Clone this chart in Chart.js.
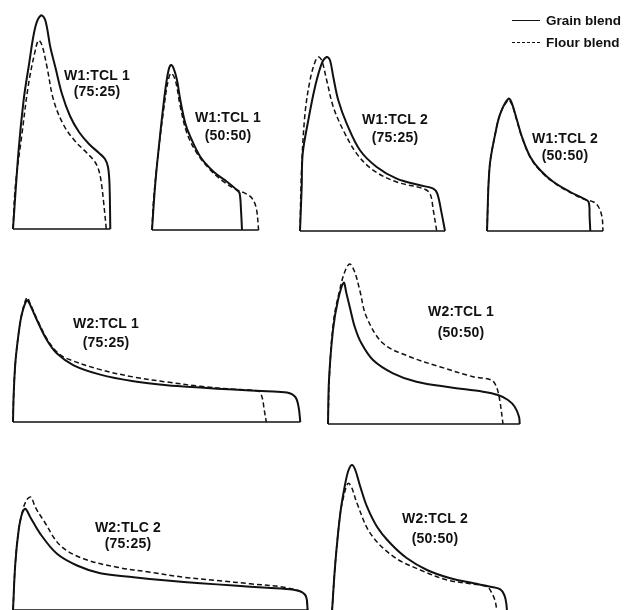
<!DOCTYPE html>
<html>
<head>
<meta charset="utf-8">
<script src="https://cdn.jsdelivr.net/npm/chart.js@4.4.1/dist/chart.umd.min.js"></script>
<style>
  html, body { margin: 0; padding: 0; background: #fff; }
  body { width: 625px; height: 610px; position: relative; overflow: hidden; }
  canvas.panel { position: absolute; }
  .lbl { position: absolute; transform: translate(-50%, -50%); font-family: "Liberation Sans", Arial, sans-serif;
         font-weight: bold; font-size: 14px; letter-spacing: 0.2px; color: #111; white-space: nowrap; line-height: 1; }
  .leg { position: absolute; font-family: "Liberation Sans", Arial, sans-serif; font-weight: bold; font-size: 13.5px;
         color: #111; white-space: nowrap; line-height: 1; }
  .legline { position: absolute; width: 28px; height: 0; }
</style>
</head>
<body>
<script>
// Alveograph curves: x = curve length (mm), y = pressure (mm).
const panelTitles = [
  ["W1:TCL 1", "(75:25)"],
  ["W1:TCL 1", "(50:50)"],
  ["W1:TCL 2", "(75:25)"],
  ["W1:TCL 2", "(50:50)"],
  ["W2:TCL 1", "(75:25)"],
  ["W2:TCL 1", "(50:50)"],
  ["W2:TLC 2", "(75:25)"],
  ["W2:TCL 2", "(50:50)"]
];
const seriesNames = ["Grain blend", "Flour blend"];

// W1:TCL 1 (75:25)
const p1Grain = [[0,0],[5.6,78.7],[10.6,128.7],[15.6,162],[22.3,202],[28,213.7],[32.3,208.7],[37.3,182],[42.3,162],[49,135],[57,113],[66,97],[76,85],[86,76],[92,70],[95,62],[96.5,45],[97.3,0]];
const p1Flour = [[0,0],[2.3,42],[9,95.4],[15.6,145.4],[22.3,178.7],[25.6,188.7],[29,183.7],[34,162],[40.6,128.7],[50.6,104],[62,88],[74,76],[82,67],[86,58],[88.5,45],[90.5,28],[93.3,0]];
// W1:TCL 1 (50:50)
const p2Grain = [[0,0],[3.3,46.7],[8.3,96.7],[13.3,140],[16.6,160],[19,165],[21.6,161.7],[25,150],[28.3,130],[33.3,106.7],[38.3,93.3],[48.3,73.3],[61.6,58.3],[75,48.3],[85,40],[87.6,36.7],[89,20],[90,0]];
const p2Flour = [[0,0],[1.6,30],[6.6,80],[11.6,120],[15.6,146.7],[19,156.7],[23.3,150],[28.3,123.3],[35,96.7],[45,76.7],[58.3,60],[71.6,48.3],[85,40],[93.3,36.7],[100,31.7],[104.3,21.7],[106.6,0]];
// W1:TCL 2 (75:25)
const p3Grain = [[0,0],[1.7,44],[2.7,77.4],[8.3,110.7],[15,144],[21.7,167.4],[26.7,174],[30,170.7],[33.3,154],[38.3,130.7],[46.7,107.4],[60,80.7],[76.7,64],[96.7,52.4],[120,45.7],[133.3,42.4],[137.3,37.4],[141.7,17.4],[145,0]];
const p3Flour = [[0,0],[1.5,60],[5,117.4],[10,150.7],[15,169],[18.3,174],[21.7,170.7],[26.7,150.7],[33.3,124],[43.3,100.7],[56.7,77.4],[73.3,60.7],[96.7,49],[123.3,42.4],[130,37.4],[133.3,20.7],[136.7,0]];
// W1:TCL 2 (50:50)
const p4Grain = [[0,0],[2.6,64],[8.3,97.4],[13.3,117.4],[21.6,132.4],[25,127.4],[30,110.7],[35,94],[43.3,74],[53.3,60.7],[66.6,49],[83.3,39],[96.6,32.4],[101.6,29],[102.6,14],[103.3,0]];
const p4Flour = [[0,0],[2.6,64],[8.3,97.4],[13.3,117.4],[21.6,131],[25,126],[30,110],[35,93.5],[43.3,73.5],[53.3,60],[66.6,48.5],[83.3,38.5],[96.6,32],[106.6,29],[111.6,24],[115,14],[116,0]];
// W2:TCL 1 (75:25)
const p5Grain = [[0,0],[0.6,25],[2.3,58.4],[5.6,88.4],[9,108.4],[14,121.7],[17.3,116.7],[24,101.7],[34,81.7],[44,68.4],[60.6,56.7],[87.3,47.4],[120.6,40.7],[154,36.7],[187.3,34.4],[220.6,32.4],[254,30.7],[274,29.4],[282.3,25],[285.6,15],[287.3,0]];
const p5Flour = [[0,0],[0.6,25],[2.3,58.4],[5.6,88.4],[9,109],[14,124.4],[17.3,118],[24,103],[34,83],[44,70],[54,63.4],[87.3,52.4],[120.6,45],[154,40],[187.3,35.7],[220.6,32.7],[245.6,30.7],[249,25],[251.3,11.7],[253.3,0]];
// W2:TCL 1 (50:50)
const p6Grain = [[0,0],[1,44],[5,94],[10,124],[15.7,141.3],[18.4,130.7],[21.7,117.3],[26.7,97.3],[33.4,80.7],[45,64],[65,50.7],[88.4,42.3],[121.7,36.7],[155,32.3],[170,29],[180,24],[186.7,17.3],[191,7.3],[191.7,0]];
const p6Flour = [[0,0],[1.7,54],[5.7,104],[11.7,134],[16.7,152],[21.7,160],[26.7,152],[31.7,134],[38.4,107.3],[55,80.7],[81.7,67.3],[111.7,57.3],[145,47.3],[163.4,44],[168.4,37.3],[171.7,24],[175,0]];
// W2:TLC 2 (75:25)
const p7Grain = [[0,0],[2.3,46.2],[5.6,79.5],[9,96.2],[12.3,101.2],[17.3,92.8],[27.3,76.2],[44,56.2],[64,44.5],[87.3,36.8],[120.6,32.8],[154,29.5],[187.3,26.8],[220.6,24.5],[254,22.2],[280.6,20.2],[289,17.8],[293.3,12.8],[294.6,0]];
const p7Flour = [[0,0],[2.3,46.2],[5.6,79.5],[10.6,102.8],[14.6,111.2],[18,112.8],[22.3,102.8],[30.6,89.5],[47.3,64.5],[70.6,51.2],[104,42.8],[137.3,37.8],[170.6,32.8],[204,29.5],[237.3,26.2],[270.6,22.8],[289,17.8],[293.3,12.8],[294.6,0]];
// W2:TCL 2 (50:50)
const p8Grain = [[0,0],[3.3,48.7],[8.3,98.7],[13.3,128.7],[16.6,142],[20,147],[23.3,142],[28.3,125.3],[35,105.3],[45,85.3],[58.3,68.7],[75,53.7],[95,42],[118.3,33.7],[141.6,28.7],[158.3,25.3],[168.3,22.7],[172.3,17],[174.3,8.7],[175,0]];
const p8Flour = [[0,0],[3.3,48.7],[8.3,98.7],[11.6,115.3],[14.3,125.3],[16.6,128.7],[20,123.7],[25,108.7],[38.3,78.7],[61.6,55.3],[88.3,42],[115,32],[135,28.7],[155,25.3],[160,18.7],[163.3,10.3],[165,0]];

const grainSeries = [p1Grain, p2Grain, p3Grain, p4Grain, p5Grain, p6Grain, p7Grain, p8Grain];
const flourSeries = [p1Flour, p2Flour, p3Flour, p4Flour, p5Flour, p6Flour, p7Flour, p8Flour];

// Layout (page pixels): origin of each panel (left foot, baseline) and label centres
const origins = [[12.7,228.7],[151.7,230],[300,230.7],[486.7,230.7],[12.7,421.7],[328.3,424],[12.7,609.5],[331.7,612]];
const labelCenters = [[97,75,91],[228,117,135],[395,119,137],[565,138,155],[106,323,342],[461,311,332],[128,527,543],[435,518,538]];
const PAD = 10, CW = 320, CH = 240;

const toPts = arr => arr.map(p => ({x: p[0], y: p[1]}));

grainSeries.forEach((g, i) => {
  const f = flourSeries[i];
  const [ox, oy] = origins[i];
  const cv = document.createElement('canvas');
  cv.className = 'panel';
  cv.width = CW; cv.height = CH;
  cv.style.width = CW + 'px'; cv.style.height = CH + 'px';
  cv.style.left = (ox - PAD) + 'px';
  cv.style.top = (oy - (CH - PAD)) + 'px';
  document.body.appendChild(cv);
  const endX = Math.max(g[g.length-1][0], f[f.length-1][0]);
  new Chart(cv, {
    type: 'scatter',
    data: {
      datasets: [
        { label: seriesNames[0], data: toPts(g), showLine: true, borderColor: '#111', borderWidth: 2,
          pointRadius: 0, tension: 0.35, fill: false },
        { label: seriesNames[1], data: toPts(f), showLine: true, borderColor: '#111', borderWidth: 1.5,
          borderDash: [5, 3], pointRadius: 0, tension: 0.35, fill: false },
        { label: 'base', data: [{x: 0, y: 0}, {x: endX, y: 0}], showLine: true, borderColor: '#111',
          borderWidth: 1.5, pointRadius: 0, tension: 0 }
      ]
    },
    options: {
      responsive: false, animation: false, events: [],
      layout: { padding: 0 },
      plugins: { legend: { display: false }, tooltip: { enabled: false } },
      scales: {
        x: { type: 'linear', min: -PAD, max: CW - PAD, display: false },
        y: { type: 'linear', min: -PAD, max: CH - PAD, display: false }
      }
    }
  });
  const [cx, y1, y2] = labelCenters[i];
  [[panelTitles[i][0], y1], [panelTitles[i][1], y2]].forEach(([t, y]) => {
    const d = document.createElement('div');
    d.className = 'lbl'; d.textContent = t;
    d.style.left = cx + 'px'; d.style.top = y + 'px';
    document.body.appendChild(d);
  });
});

// Legend
[[seriesNames[0], 21, 'solid', 1.8], [seriesNames[1], 43, 'dashed', 1.3]].forEach(([t, y, st, w]) => {
  const l = document.createElement('div');
  l.className = 'legline';
  l.style.left = '512px'; l.style.top = (y - w/2) + 'px';
  l.style.borderTop = w + 'px ' + st + ' #111';
  document.body.appendChild(l);
  const d = document.createElement('div');
  d.className = 'leg'; d.textContent = t;
  d.style.left = '546px'; d.style.top = (y - 7) + 'px';
  document.body.appendChild(d);
});
</script>
</body>
</html>
